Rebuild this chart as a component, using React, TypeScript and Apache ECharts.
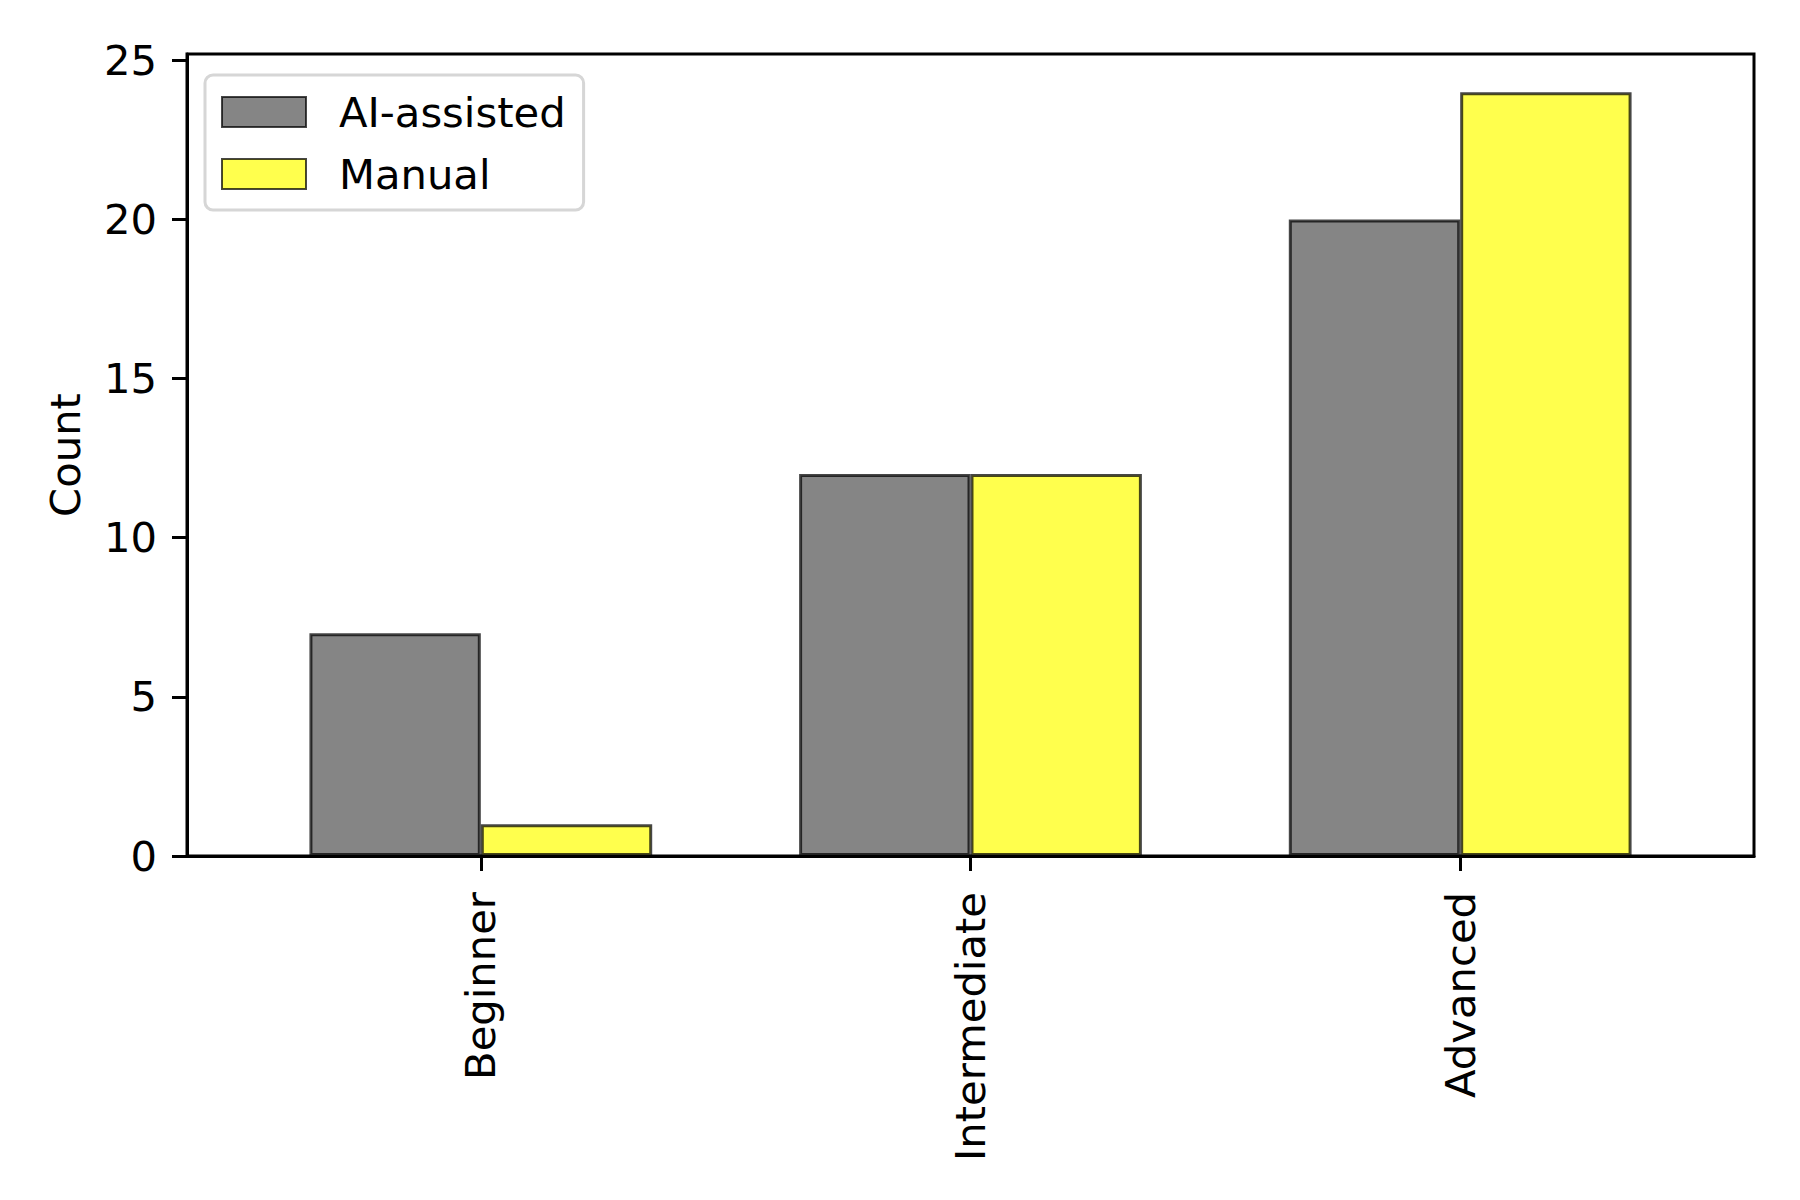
import React, { useEffect, useRef } from "react";
import * as echarts from "echarts";

const categories = ["Beginner", "Intermediate", "Advanced"];
const aiAssisted = [7, 12, 20];
const manual = [1, 12, 24];
const yTicks = [0, 5, 10, 15, 20, 25];
const xTicks = [0, 1, 2];

const FONT = "DejaVu Sans";
const FS = 41.7;

export default function App() {
  const ref = useRef<HTMLDivElement>(null);
  useEffect(() => {
    if (!ref.current) return;
    const chart = echarts.init(ref.current, null, { renderer: "svg" });
    const edge = "rgba(0,0,0,0.72)";
    chart.setOption({
      animation: false,
      backgroundColor: "#ffffff",
      textStyle: { fontFamily: FONT },
      grid: {
        left: 187,
        right: 46,
        top: 54,
        bottom: 344,
        show: true,
        borderColor: "#000",
        borderWidth: 3,
        backgroundColor: "transparent",
      },
      legend: {
        orient: "vertical",
        left: 205,
        top: 75,
        padding: [16, 18, 15, 16],
        itemWidth: 84,
        itemHeight: 30,
        itemGap: 20,
        icon: "rect",
        backgroundColor: "#fff",
        borderColor: "#d6d6d6",
        borderWidth: 3,
        borderRadius: 8,
        textStyle: {
          fontFamily: FONT,
          fontSize: FS,
          color: "#000",
          padding: [0, 0, 0, 28],
        },
        data: ["AI-assisted", "Manual"],
      },
      xAxis: {
        type: "value",
        min: -0.6,
        max: 2.6,
        splitLine: { show: false },
        axisLine: { show: true, onZero: false, lineStyle: { color: "#000", width: 3 } },
        axisTick: {
          show: true,
          length: 15,
          lineStyle: { color: "#000", width: 3 },
          customValues: xTicks,
        },
        axisLabel: {
          customValues: xTicks,
          rotate: 90,
          margin: 36,
          fontFamily: FONT,
          fontSize: FS,
          color: "#000",
          formatter: (v: number) => categories[Math.round(v)] ?? "",
        },
      },
      yAxis: {
        type: "value",
        min: 0,
        max: 25.2,
        name: "Count",
        nameLocation: "middle",
        nameGap: 101,
        nameRotate: 90,
        nameTextStyle: { fontFamily: FONT, fontSize: FS, color: "#000" },
        splitLine: { show: false },
        axisLine: { show: true, onZero: false, lineStyle: { color: "#000", width: 3 } },
        axisTick: {
          show: true,
          length: 15,
          lineStyle: { color: "#000", width: 3 },
          customValues: yTicks,
        },
        axisLabel: {
          customValues: yTicks,
          margin: 30,
          fontFamily: FONT,
          fontSize: FS,
          color: "#000",
        },
      },
      series: [
        {
          name: "AI-assisted",
          type: "bar",
          barWidth: "35%",
          barGap: "0%",
          data: aiAssisted.map((v, i) => [i, v]),
          itemStyle: { color: "#858585", borderColor: edge, borderWidth: 3 },
        },
        {
          name: "Manual",
          type: "bar",
          barWidth: "35%",
          barGap: "0%",
          data: manual.map((v, i) => [i, v]),
          itemStyle: { color: "#ffff4d", borderColor: edge, borderWidth: 3 },
        },
      ],
    });
    return () => chart.dispose();
  }, []);
  return <div ref={ref} style={{ width: 1800, height: 1200, margin: -8 }} />;
}
